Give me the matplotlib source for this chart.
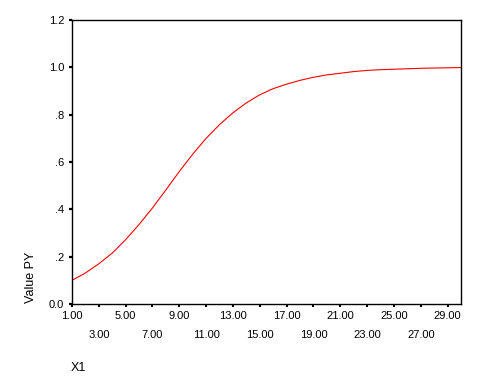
import matplotlib
matplotlib.use("Agg")
import matplotlib.pyplot as plt
from matplotlib.ticker import FixedLocator, FixedFormatter

plt.rcParams['font.family'] = ['Liberation Sans', 'DejaVu Sans']

x1 = list(range(1, 31))
value_py = [0.100, 0.131, 0.170, 0.215, 0.272, 0.336, 0.406, 0.482, 0.560, 0.633,
            0.700, 0.758, 0.808, 0.850, 0.884, 0.910, 0.929, 0.945, 0.958, 0.968,
            0.975, 0.982, 0.987, 0.990, 0.992, 0.994, 0.996, 0.997, 0.998, 0.999]

xticks_top = [1, 5, 9, 13, 17, 21, 25, 29]
xticks_bottom = [3, 7, 11, 15, 19, 23, 27]
yticks = [0.0, 0.2, 0.4, 0.6, 0.8, 1.0, 1.2]
ytick_labels = ["0.0", ".2", ".4", ".6", ".8", "1.0", "1.2"]

fig = plt.figure(figsize=(4.8, 3.84), dpi=100)
ax = fig.add_axes([72/480, 80/384, (461-72)/480, (304-20)/384])
ax.plot(x1, value_py, color='#ff0000', lw=0.8)

ax.set_xlim(1, 30)
ax.set_ylim(0, 1.2)

ax.xaxis.set_major_locator(FixedLocator(xticks_top))
ax.xaxis.set_major_formatter(FixedFormatter([f"{v:.2f}" for v in xticks_top]))
ax.xaxis.set_minor_locator(FixedLocator(xticks_bottom))
ax.xaxis.set_minor_formatter(FixedFormatter([f"{v:.2f}" for v in xticks_bottom]))
ax.set_yticks(yticks)
ax.set_yticklabels(ytick_labels)

ax.tick_params(axis='x', which='major', length=2, width=1.5, pad=3, labelsize=8)
ax.tick_params(axis='x', which='minor', length=2, width=1.5, pad=17, labelsize=8)
ax.tick_params(axis='y', length=2.5, width=1.6, pad=3, labelsize=8)

for s in ax.spines.values():
    s.set_linewidth(1.0)

fig.text(31/480, 1 - 303/384, "Value PY", rotation=90, ha='center', va='bottom', fontsize=9)
fig.text(71/480, 1 - 368/384, "X1", ha='left', va='center', fontsize=9)

fig.savefig("out.png", dpi=100)
